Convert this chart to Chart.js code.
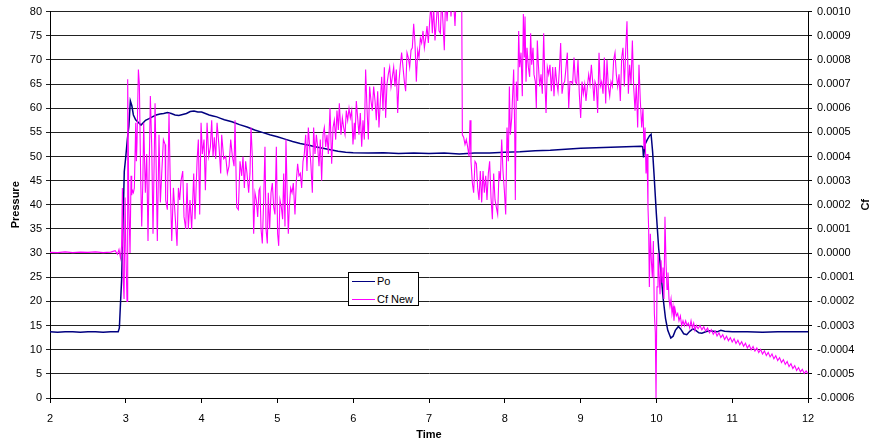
<!DOCTYPE html>
<html>
<head>
<meta charset="utf-8">
<script src="https://cdn.jsdelivr.net/npm/chart.js@4.4.1/dist/chart.umd.min.js"></script>
<style>
  html, body { margin: 0; padding: 0; background: #fff; }
  #wrap { position: relative; width: 873px; height: 445px; }
  #legend {
    position: absolute; left: 348px; top: 272px; width: 69px; height: 32px;
    border: 1px solid #000; background: #fff;
    font: 11px "Liberation Sans", Arial, sans-serif; color: #000;
  }
  #legend .swatch { position: absolute; left: 3px; width: 23px; height: 1px; }
  #legend .label { position: absolute; left: 28px; line-height: 13px; white-space: nowrap; }
</style>
</head>
<body>
<div id="wrap">
  <canvas id="chart" width="873" height="445"></canvas>
  <div id="legend">
    <div class="swatch" style="top:8px;background:#000080"></div>
    <div class="label" style="top:2px">Po</div>
    <div class="swatch" style="top:26px;background:#ff00ff"></div>
    <div class="label" style="top:20px">Cf New</div>
  </div>
</div>
<script>
// Po (pressure, left axis)
const poTime = [
  2.0, 2.1, 2.2, 2.3, 2.4, 2.5, 2.6, 2.7, 2.8, 2.9,
  2.915, 2.945, 2.98, 3.0, 3.02, 3.04, 3.06, 3.08, 3.1, 3.13,
  3.17, 3.2, 3.23, 3.26, 3.3, 3.35, 3.4, 3.45, 3.5, 3.55,
  3.6, 3.65, 3.7, 3.75, 3.8, 3.85, 3.9, 3.95, 4.0, 4.05,
  4.1, 4.15, 4.2, 4.25, 4.3, 4.35, 4.4, 4.5, 4.6, 4.7,
  4.8, 4.9, 5.0, 5.1, 5.2, 5.3, 5.4, 5.5, 5.6, 5.7,
  5.8, 5.9, 6.0, 6.2, 6.4, 6.6, 6.8, 7.0, 7.2, 7.4,
  7.6, 7.8, 8.0, 8.2, 8.4, 8.6, 8.8, 9.0, 9.2, 9.4,
  9.6, 9.8, 9.82, 9.83, 9.85, 9.88, 9.91, 9.93, 9.95, 9.97,
  10.0, 10.03, 10.06, 10.09, 10.12, 10.15, 10.19, 10.22, 10.25, 10.29,
  10.32, 10.36, 10.4, 10.44, 10.48, 10.52, 10.56, 10.6, 10.65, 10.7,
  10.75, 10.8, 10.85, 10.9, 11.0, 11.2, 11.4, 11.6, 11.8, 12.0
];
const poPressure = [
  13.7, 13.6, 13.7, 13.7, 13.6, 13.7, 13.7, 13.6, 13.7, 13.7,
  14.5, 24.6, 46.9, 50.0, 53.5, 56.2, 61.5, 60.5, 58.6, 57.6,
  57.0, 56.5, 57.0, 57.5, 57.8, 58.2, 58.6, 58.8, 58.9, 59.1,
  58.9, 58.6, 58.5, 58.7, 58.9, 59.3, 59.4, 59.2, 59.2, 58.9,
  58.6, 58.4, 58.2, 57.9, 57.6, 57.4, 57.2, 56.6, 56.1, 55.5,
  55.0, 54.5, 54.1, 53.6, 53.1, 52.7, 52.4, 52.0, 51.7, 51.4,
  51.1, 50.9, 50.8, 50.7, 50.8, 50.6, 50.7, 50.6, 50.7, 50.5,
  50.7, 50.7, 50.9, 51.0, 51.2, 51.3, 51.5, 51.7, 51.8, 51.9,
  52.0, 52.1, 52.0, 49.8, 52.5, 53.5, 54.3, 54.6, 51.0, 46.0,
  38.0, 31.0, 26.0, 20.5, 16.5, 14.0, 12.4, 12.8, 14.0, 14.8,
  14.3, 13.3, 13.1, 13.8, 14.3, 14.0, 13.5, 13.4, 13.7, 13.9,
  13.8, 13.7, 14.0, 13.8, 13.7, 13.7, 13.6, 13.7, 13.7, 13.7
];

// Cf New (right axis)
const cfTime = [
  2.0, 2.1, 2.2, 2.3, 2.4, 2.5, 2.6, 2.7, 2.8, 2.86,
  2.89, 2.91, 2.93, 2.945, 2.955, 2.965, 2.977, 2.99, 3.005, 3.016,
  3.025, 3.04, 3.056, 3.069, 3.078, 3.087, 3.1, 3.113, 3.131, 3.14,
  3.148, 3.166, 3.179, 3.197, 3.21, 3.225, 3.236, 3.258, 3.276, 3.293,
  3.324, 3.342, 3.359, 3.386, 3.399, 3.416, 3.438, 3.456, 3.474, 3.496,
  3.518, 3.526, 3.548, 3.57, 3.588, 3.606, 3.628, 3.65, 3.676, 3.694,
  3.711, 3.729, 3.751, 3.768, 3.79, 3.808, 3.825, 3.847, 3.869, 3.896,
  3.913, 3.94, 3.957, 3.975, 3.993, 4.01, 4.032, 4.05, 4.072, 4.094,
  4.116, 4.133, 4.151, 4.168, 4.186, 4.204, 4.23, 4.252, 4.265, 4.292,
  4.318, 4.34, 4.362, 4.384, 4.406, 4.428, 4.441, 4.463, 4.485, 4.507,
  4.529, 4.546, 4.564, 4.581, 4.599, 4.621, 4.638, 4.652, 4.669, 4.687,
  4.704, 4.722, 4.74, 4.757, 4.77, 4.784, 4.801, 4.819, 4.836, 4.85,
  4.867, 4.88, 4.898, 4.916, 4.933, 4.951, 4.968, 4.986, 5.003, 5.017,
  5.034, 5.052, 5.069, 5.083, 5.1, 5.113, 5.127, 5.144, 5.157, 5.175,
  5.193, 5.21, 5.232, 5.25, 5.267, 5.285, 5.303, 5.32, 5.338, 5.355,
  5.373, 5.39, 5.408, 5.426, 5.443, 5.461, 5.478, 5.496, 5.514, 5.531,
  5.549, 5.566, 5.584, 5.602, 5.619, 5.637, 5.654, 5.672, 5.694, 5.716,
  5.734, 5.751, 5.769, 5.786, 5.804, 5.817, 5.839, 5.857, 5.874, 5.892,
  5.909, 5.927, 5.945, 5.962, 5.98, 5.997, 6.015, 6.024, 6.041, 6.059,
  6.076, 6.094, 6.112, 6.129, 6.147, 6.164, 6.182, 6.2, 6.217, 6.235,
  6.252, 6.27, 6.288, 6.305, 6.323, 6.34, 6.358, 6.376, 6.393, 6.411,
  6.428, 6.446, 6.463, 6.481, 6.499, 6.516, 6.534, 6.551, 6.569, 6.587,
  6.604, 6.622, 6.639, 6.657, 6.675, 6.692, 6.71, 6.727, 6.745, 6.763,
  6.78, 6.798, 6.815, 6.833, 6.851, 6.868, 6.886, 6.903, 6.921, 6.939,
  6.956, 6.974, 6.991, 7.009, 7.026, 7.044, 7.061, 7.079, 7.097, 7.114,
  7.132, 7.15, 7.167, 7.185, 7.202, 7.22, 7.238, 7.255, 7.273, 7.29,
  7.308, 7.325, 7.343, 7.361, 7.387, 7.413, 7.431, 7.44, 7.457, 7.475,
  7.492, 7.51, 7.528, 7.541, 7.554, 7.572, 7.589, 7.607, 7.625, 7.642,
  7.66, 7.677, 7.695, 7.713, 7.73, 7.748, 7.765, 7.783, 7.8, 7.818,
  7.836, 7.853, 7.871, 7.888, 7.906, 7.924, 7.941, 7.959, 7.976, 7.994,
  8.012, 8.029, 8.047, 8.06, 8.073, 8.091, 8.104, 8.117, 8.13, 8.139,
  8.152, 8.17, 8.183, 8.196, 8.214, 8.231, 8.245, 8.258, 8.267, 8.28,
  8.293, 8.311, 8.328, 8.341, 8.355, 8.372, 8.385, 8.403, 8.416, 8.429,
  8.443, 8.46, 8.478, 8.495, 8.513, 8.53, 8.544, 8.561, 8.579, 8.596,
  8.614, 8.632, 8.649, 8.667, 8.684, 8.702, 8.72, 8.737, 8.755, 8.772,
  8.79, 8.808, 8.825, 8.843, 8.86, 8.878, 8.895, 8.913, 8.931, 8.948,
  8.966, 8.983, 9.001, 9.019, 9.036, 9.054, 9.071, 9.089, 9.107, 9.124,
  9.142, 9.159, 9.177, 9.19, 9.208, 9.225, 9.243, 9.26, 9.278, 9.296,
  9.313, 9.331, 9.348, 9.366, 9.384, 9.401, 9.419, 9.436, 9.454, 9.471,
  9.489, 9.507, 9.524, 9.542, 9.559, 9.577, 9.595, 9.612, 9.63, 9.647,
  9.665, 9.683, 9.7, 9.718, 9.735, 9.753, 9.77, 9.788, 9.806, 9.823,
  9.836, 9.85, 9.863, 9.876, 9.889, 9.898, 9.907, 9.92, 9.933, 9.946,
  9.96, 9.973, 9.986, 9.995, 10.008, 10.021, 10.034, 10.048, 10.061, 10.074,
  10.087, 10.1, 10.113, 10.127, 10.14, 10.153, 10.166, 10.179, 10.193, 10.206,
  10.219, 10.232, 10.245, 10.263, 10.281, 10.298, 10.316, 10.333, 10.351, 10.369,
  10.386, 10.404, 10.421, 10.439, 10.457, 10.474, 10.492, 10.509, 10.527, 10.55,
  10.575, 10.6, 10.625, 10.65, 10.675, 10.7, 10.725, 10.75, 10.775, 10.8,
  10.825, 10.85, 10.875, 10.9, 10.925, 10.95, 10.975, 11.0, 11.025, 11.05,
  11.075, 11.1, 11.125, 11.15, 11.175, 11.2, 11.225, 11.25, 11.275, 11.3,
  11.325, 11.35, 11.375, 11.4, 11.425, 11.45, 11.475, 11.5, 11.525, 11.55,
  11.575, 11.6, 11.625, 11.65, 11.675, 11.7, 11.725, 11.75, 11.775, 11.8,
  11.825, 11.85, 11.875, 11.9, 11.925, 11.95, 11.975, 12.0
];
const cfNew = [
  0.03e-4, 0.02e-4, 0.05e-4, 0.02e-4, 0.04e-4, 0.03e-4, 0.05e-4, 0.02e-4, 0.04e-4, 0.1e-4,
  -0.05e-4, 0.15e-4, -0.2e-4, 0.3e-4, 2.7e-4, -1.0e-4, -1.9e-4, 2.3e-4, -0.5e-4, -2.0e-4,
  7.2e-4, 2.0e-4, 0, 3.2e-4, 2.4e-4, 2.6e-4, 2.5e-4, 2.7e-4, 5.4e-4, 3.8e-4,
  4.6e-4, 7.6e-4, 7.0e-4, 3.0e-4, 1.1e-4, 3.0e-4, 5.4e-4, 2.5e-4, 4.1e-4, 0.5e-4,
  6.5e-4, 4.4e-4, 0.8e-4, 6.2e-4, 3.9e-4, 0.5e-4, 4.9e-4, 2.1e-4, 3.3e-4, 4.7e-4,
  4.5e-4, 2.2e-4, 1.8e-4, 5.8e-4, 2.7e-4, 0.5e-4, 2.7e-4, 1.6e-4, 0.3e-4, 2.7e-4,
  2.2e-4, 3.0e-4, 3.4e-4, 1.5e-4, 1.0e-4, 2.9e-4, 1.0e-4, 2.2e-4, 1.0e-4, 3.3e-4,
  1.4e-4, 3.8e-4, 4.7e-4, 1.6e-4, 5.4e-4, 4.1e-4, 4.7e-4, 2.6e-4, 5.4e-4, 4.0e-4,
  4.4e-4, 5.5e-4, 4.0e-4, 4.8e-4, 3.9e-4, 5.4e-4, 4.4e-4, 3.3e-4, 4.9e-4, 3.9e-4,
  4.0e-4, 3.3e-4, 3.6e-4, 4.7e-4, 4.0e-4, 3.6e-4, 5.5e-4, 1.9e-4, 1.8e-4, 3.8e-4,
  3.2e-4, 4.0e-4, 2.7e-4, 3.8e-4, 3.3e-4, 2.5e-4, 3.3e-4, 5.2e-4, 4.0e-4, 0.8e-4,
  2.5e-4, 2.2e-4, 1.5e-4, 2.6e-4, 2.7e-4, 1.0e-4, 0.4e-4, 2.2e-4, 4.4e-4, 1.0e-4,
  0.4e-4, 2.5e-4, 1.0e-4, 2.5e-4, 2.9e-4, 1.9e-4, 1.6e-4, 4.4e-4, 0.8e-4, 0.3e-4,
  2.2e-4, 1.9e-4, 1.4e-4, 3.3e-4, 1.1e-4, 4.7e-4, 2.7e-4, 0.8e-4, 1.9e-4, 2.7e-4,
  2.5e-4, 2.9e-4, 1.6e-4, 3.0e-4, 3.7e-4, 3.2e-4, 3.3e-4, 2.7e-4, 3.8e-4, 4.1e-4,
  4.9e-4, 3.4e-4, 5.2e-4, 4.4e-4, 3.6e-4, 2.5e-4, 5.2e-4, 4.1e-4, 4.9e-4, 4.4e-4,
  3.6e-4, 4.7e-4, 3.0e-4, 4.9e-4, 5.2e-4, 4.4e-4, 4.9e-4, 4.1e-4, 6.0e-4, 3.7e-4,
  5.2e-4, 5.5e-4, 4.7e-4, 5.9e-4, 5.1e-4, 6.2e-4, 4.9e-4, 5.6e-4, 5.2e-4, 4.9e-4,
  5.9e-4, 5.5e-4, 6.0e-4, 5.6e-4, 5.9e-4, 4.5e-4, 5.4e-4, 4.7e-4, 6.3e-4, 5.6e-4,
  4.9e-4, 5.8e-4, 4.4e-4, 5.5e-4, 4.7e-4, 7.6e-4, 6.0e-4, 4.7e-4, 6.9e-4, 6.3e-4,
  5.9e-4, 6.9e-4, 6.3e-4, 5.5e-4, 6.7e-4, 5.2e-4, 6.3e-4, 7.3e-4, 5.9e-4, 7.7e-4,
  5.6e-4, 7.0e-4, 7.4e-4, 7.7e-4, 6.9e-4, 7.3e-4, 7.7e-4, 6.9e-4, 7.6e-4, 5.8e-4,
  7.1e-4, 7.8e-4, 8.3e-4, 7.7e-4, 7.1e-4, 6.7e-4, 8.3e-4, 8.1e-4, 7.7e-4, 8.4e-4,
  8.5e-4, 9.5e-4, 8.7e-4, 7.1e-4, 8.4e-4, 8.1e-4, 8.9e-4, 8.7e-4, 9.2e-4, 8.5e-4,
  8.9e-4, 9.4e-4, 8.7e-4, 9.6e-4, 10.3e-4, 9.1e-4, 10.2e-4, 8.8e-4, 9.6e-4, 10.5e-4,
  9.2e-4, 9.1e-4, 10.6e-4, 9.5e-4, 8.4e-4, 10.8e-4, 9.6e-4, 10.5e-4, 10.9e-4, 9.8e-4,
  10.7e-4, 10.4e-4, 9.4e-4, 10.8e-4, 11.2e-4, 10.9e-4, 11.0e-4, 4.9e-4, 4.8e-4, 4.5e-4,
  4.7e-4, 4.4e-4, 4.0e-4, 5.5e-4, 3.8e-4, 2.9e-4, 2.5e-4, 3.8e-4, 3.7e-4, 2.7e-4,
  2.2e-4, 3.4e-4, 2.1e-4, 3.4e-4, 2.5e-4, 3.2e-4, 2.2e-4, 3.3e-4, 3.8e-4, 2.3e-4,
  1.4e-4, 3.3e-4, 2.2e-4, 1.9e-4, 1.6e-4, 3.4e-4, 3.0e-4, 4.7e-4, 3.4e-4, 2.6e-4,
  1.6e-4, 5.2e-4, 3.8e-4, 6.9e-4, 4.9e-4, 5.6e-4, 6.6e-4, 7.6e-4, 5.2e-4, 2.2e-4,
  7.1e-4, 6.3e-4, 9.2e-4, 7.7e-4, 8.3e-4, 6.5e-4, 9.9e-4, 8.1e-4, 9.8e-4, 7.1e-4,
  8.5e-4, 7.7e-4, 7.3e-4, 9.1e-4, 7.8e-4, 8.5e-4, 7.4e-4, 7.1e-4, 6.0e-4, 8.8e-4,
  7.8e-4, 6.9e-4, 7.4e-4, 6.6e-4, 9.1e-4, 7.0e-4, 5.8e-4, 7.7e-4, 7.4e-4, 7.8e-4,
  6.7e-4, 7.7e-4, 6.5e-4, 7.7e-4, 7.1e-4, 6.7e-4, 7.6e-4, 8.7e-4, 6.6e-4, 7.0e-4,
  7.1e-4, 7.7e-4, 8.3e-4, 6.0e-4, 7.1e-4, 7.1e-4, 7.0e-4, 8.1e-4, 7.1e-4, 7.0e-4,
  8.0e-4, 6.6e-4, 5.6e-4, 7.1e-4, 6.6e-4, 7.0e-4, 6.3e-4, 6.9e-4, 7.4e-4, 7.0e-4,
  7.8e-4, 7.1e-4, 6.3e-4, 7.1e-4, 6.9e-4, 5.8e-4, 8.3e-4, 6.9e-4, 7.1e-4, 6.6e-4,
  8.1e-4, 6.2e-4, 8.0e-4, 6.9e-4, 6.5e-4, 7.1e-4, 6.9e-4, 8.0e-4, 8.3e-4, 7.4e-4,
  6.9e-4, 7.4e-4, 6.3e-4, 8.1e-4, 8.5e-4, 6.9e-4, 8.4e-4, 9.6e-4, 6.6e-4, 7.8e-4,
  7.0e-4, 8.8e-4, 6.9e-4, 5.9e-4, 7.0e-4, 5.2e-4, 7.8e-4, 6.3e-4, 5.2e-4, 6.0e-4,
  4.3e-4, 5.2e-4, 3.3e-4, 4.1e-4, 1.9e-4, 1.0e-4, -1.4e-4, 0.8e-4, -0.3e-4, -1.0e-4,
  0.5e-4, -2.5e-4, -3.3e-4, -6.0e-4, -1.4e-4, 0, -0.8e-4, -1.7e-4, -0.3e-4, -1.2e-4,
  -0.6e-4, -1.9e-4, 1.5e-4, -0.4e-4, -1.5e-4, -0.8e-4, -1.9e-4, -2.2e-4, -1.9e-4, -2.5e-4,
  -2.2e-4, -2.8e-4, -2.3e-4, -2.6e-4, -2.5e-4, -2.8e-4, -2.6e-4, -3.0e-4, -2.8e-4, -3.0e-4,
  -2.8e-4, -3.0e-4, -2.9e-4, -3.1e-4, -2.8e-4, -3.1e-4, -2.9e-4, -3.2e-4, -3.0e-4, -3.13e-4,
  -3.0e-4, -3.18e-4, -3.05e-4, -3.23e-4, -3.1e-4, -3.3e-4, -3.17e-4, -3.36e-4, -3.23e-4, -3.43e-4,
  -3.3e-4, -3.5e-4, -3.38e-4, -3.58e-4, -3.44e-4, -3.63e-4, -3.5e-4, -3.68e-4, -3.55e-4, -3.74e-4,
  -3.61e-4, -3.8e-4, -3.67e-4, -3.86e-4, -3.73e-4, -3.93e-4, -3.8e-4, -4.0e-4, -3.87e-4, -4.06e-4,
  -3.93e-4, -4.12e-4, -3.99e-4, -4.18e-4, -4.05e-4, -4.24e-4, -4.11e-4, -4.3e-4, -4.18e-4, -4.38e-4,
  -4.25e-4, -4.45e-4, -4.33e-4, -4.53e-4, -4.41e-4, -4.61e-4, -4.49e-4, -4.7e-4, -4.58e-4, -4.78e-4,
  -4.66e-4, -4.86e-4, -4.74e-4, -4.92e-4, -4.81e-4, -4.98e-4, -4.88e-4, -4.99e-4
];

// axis ranges
const timeAxis = [2, 12, 1];            // min, max, step
const pressureAxis = [0, 80, 5];
const cfAxis = [-0.0006, 0.0010, 0.0001];

if (poTime.length !== poPressure.length || cfTime.length !== cfNew.length) {
  console.error("series length mismatch", poTime.length, poPressure.length, cfTime.length, cfNew.length);
}

const FONT = "'Liberation Sans', Arial, sans-serif";
const tickFont = { family: FONT, size: 11 };
const titleFont = { family: FONT, size: 11, weight: "bold" };
const GRID = "#222";

// right axis title, reads bottom to top like the left one
const cfTitlePlugin = {
  id: "cfTitle",
  afterDraw(chart) {
    const { ctx, chartArea } = chart;
    ctx.save();
    ctx.font = "bold 11px " + FONT;
    ctx.fillStyle = "#000";
    ctx.textAlign = "center";
    ctx.textBaseline = "middle";
    ctx.translate(866, (chartArea.top + chartArea.bottom) / 2);
    ctx.rotate(-Math.PI / 2);
    ctx.fillText("Cf", 0, 0);
    ctx.restore();
  },
};

new Chart(document.getElementById("chart"), {
  type: "line",
  data: {
    datasets: [
      {
        label: "Po",
        data: poTime.map((t, i) => ({ x: t, y: poPressure[i] })),
        yAxisID: "y",
        borderColor: "#000080",
        borderWidth: 1.5,
        pointRadius: 0,
        tension: 0,
        order: 1,
      },
      {
        label: "Cf New",
        data: cfTime.map((t, i) => ({ x: t, y: cfNew[i] })),
        yAxisID: "y1",
        borderColor: "#ff00ff",
        borderWidth: 1.1,
        pointRadius: 0,
        tension: 0,
        order: 0,
      },
    ],
  },
  options: {
    responsive: false,
    animation: false,
    devicePixelRatio: 1,
    layout: { padding: { top: 11, left: 0, right: 0, bottom: 0 } },
    plugins: { legend: { display: false }, tooltip: { enabled: false } },
    scales: {
      x: {
        type: "linear",
        min: timeAxis[0],
        max: timeAxis[1],
        ticks: { stepSize: timeAxis[2], color: "#000", font: tickFont, padding: 9, maxRotation: 0 },
        grid: { drawOnChartArea: false, color: "#000", tickLength: 5 },
        border: { color: "#000" },
        title: { display: true, text: "Time", color: "#000", font: titleFont, padding: { top: 0, bottom: 3 } },
        afterFit: (s) => { s.height = 47; },
      },
      y: {
        position: "left",
        min: pressureAxis[0],
        max: pressureAxis[1],
        ticks: { stepSize: pressureAxis[2], color: "#000", font: tickFont, padding: 4 },
        grid: { color: GRID, tickLength: 4 },
        border: { color: "#000" },
        title: { display: true, text: "Pressure", color: "#000", font: titleFont, padding: { top: 9, bottom: 0 } },
        afterFit: (s) => { s.width = 50; },
      },
      y1: {
        position: "right",
        min: cfAxis[0],
        max: cfAxis[1],
        ticks: {
          stepSize: cfAxis[2],
          color: "#000",
          font: tickFont,
          padding: 5,
          callback: (v) => (Math.abs(v) < 1e-9 ? "0.0000" : Number(v).toFixed(4)),
        },
        grid: { drawOnChartArea: false, color: "#000", tickLength: 4 },
        border: { color: "#000" },
        afterFit: (s) => { s.width = 65; },
      },
    },
  },
  plugins: [cfTitlePlugin],
});
</script>
</body>
</html>
